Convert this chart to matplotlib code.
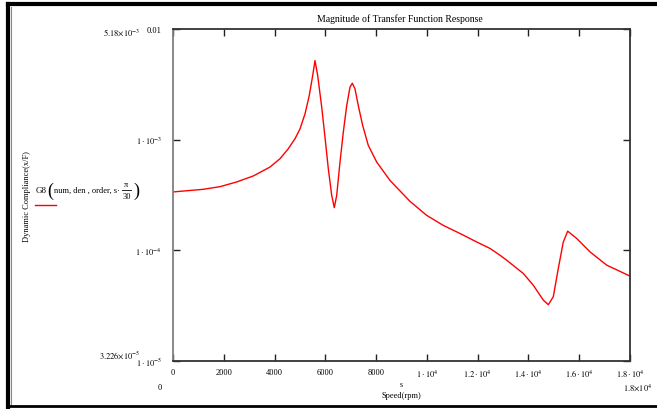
import matplotlib
matplotlib.use("Agg")
import matplotlib.pyplot as plt
from matplotlib.lines import Line2D

plt.rcParams['font.family'] = ['Liberation Serif', 'DejaVu Serif']
plt.rcParams['mathtext.fontset'] = 'stix'

# Data (speed in rpm, dynamic compliance)
speed_rpm = [0, 1193, 1851, 2509, 3163, 3821, 4214, 4541, 4805, 5002, 5199,
             5368, 5502, 5593, 5699, 5857, 5987, 6117, 6251, 6353, 6448, 6578,
             6708, 6842, 6971, 7062, 7168, 7298, 7472, 7692, 8023, 8547, 9335,
             9992, 10646, 11304, 11962, 12486, 12880, 13143, 13797, 14191,
             14585, 14782, 14979, 15176, 15373, 15546, 15900, 16424, 17082,
             18000]
compliance = [3.37e-4, 3.56e-4, 3.76e-4, 4.15e-4, 4.70e-4, 5.66e-4, 6.73e-4,
              8.28e-4, 1.02e-3, 1.25e-3, 1.71e-3, 2.51e-3, 3.80e-3, 5.18e-3,
              3.80e-3, 1.97e-3, 1.05e-3, 5.47e-4, 3.14e-4, 2.43e-4, 3.14e-4,
              6.28e-4, 1.17e-3, 2.03e-3, 2.98e-3, 3.24e-3, 2.88e-3, 2.03e-3,
              1.34e-3, 8.87e-4, 6.28e-4, 4.28e-4, 2.77e-4, 2.07e-4, 1.68e-4,
              1.42e-4, 1.19e-4, 1.04e-4, 9.03e-5, 8.14e-5, 6.18e-5, 4.84e-5,
              3.55e-5, 3.226e-5, 3.81e-5, 6.86e-5, 1.19e-4, 1.49e-4, 1.28e-4,
              9.69e-5, 7.35e-5, 5.85e-5]

x_ticks = [0, 2000, 4000, 6000, 8000, 10000, 12000, 14000, 16000, 18000]
x_ticklabels = ["0", "2000", "4000", "6000", "8000", r"$1\cdot10^{4}$",
                r"$1.2\cdot10^{4}$", r"$1.4\cdot10^{4}$", r"$1.6\cdot10^{4}$",
                r"$1.8\cdot10^{4}$"]
y_ticks = [1e-5, 1e-4, 1e-3, 1e-2]
y_ticklabels = [r"$1\cdot10^{-5}$", r"$1\cdot10^{-4}$", r"$1\cdot10^{-3}$", "0.01"]

W, H = 657, 410
fig = plt.figure(figsize=(W / 100, H / 100), dpi=100)
ax = fig.add_axes([173 / W, 1 - 362 / H, (630 - 173) / W, (362 - 30) / H])

ax.plot(speed_rpm, compliance, color='red', lw=1.0)
ax.set_yscale('log')
ax.set_xlim(0, 18000)
ax.set_ylim(1e-5, 1e-2)
ax.set_xticks(x_ticks)
ax.set_xticklabels(x_ticklabels)
ax.set_yticks(y_ticks)
ax.set_yticklabels(y_ticklabels)
ax.yaxis.set_minor_locator(matplotlib.ticker.NullLocator())
ax.tick_params(which='both', direction='in', top=True, right=True,
               labelsize=6, length=5, width=1.0, color='#222222')
ax.tick_params(axis='x', pad=5)
ax.tick_params(axis='y', pad=8)

for side in ['top', 'right', 'bottom']:
    ax.spines[side].set_color('#333333')
    ax.spines[side].set_linewidth(1.3)
ax.spines['left'].set_color('#808080')
ax.spines['left'].set_linewidth(1.3)

fig.text(400 / W, 1 - 19 / H, "Magnitude of Transfer Function Response",
         ha='center', va='center', fontsize=7)
fig.text(401 / W, 1 - 385 / H, "s", ha='center', va='center', fontsize=5.5)
fig.text(401 / W, 1 - 396 / H, "Speed(rpm)", ha='center', va='center', fontsize=6)
fig.text(27 / W, 1 - 197 / H, "Dynamic Compliance(x/F)", rotation=90,
         ha='center', va='center', fontsize=6)

# range annotations
fig.text(140 / W, 1 - 33 / H, r"$5.18{\times}10^{-3}$", ha='right', va='center',
         fontsize=6)
fig.text(140 / W, 1 - 355 / H, r"$3.226{\times}10^{-5}$", ha='right', va='center',
         fontsize=6)
fig.text(160 / W, 1 - 388 / H, "0", ha='center', va='center', fontsize=6)
fig.text(638 / W, 1 - 388 / H, r"$1.8{\times}10^{4}$", ha='center', va='center',
         fontsize=6)

# legend (composed pieces)
def ftext(x, y, s, **kw):
    fig.text(x / W, 1 - y / H, s, **kw)

ftext(36, 193, "G8", ha='left', va='baseline', fontsize=6.5)
ftext(50.5, 191, "(", ha='center', va='center', fontsize=13)
ftext(54, 193, "num, den , order, s\u00b7", ha='left', va='baseline', fontsize=6)
ftext(126.5, 187, "\u03c0", ha='center', va='baseline', fontsize=6)
fig.add_artist(Line2D([122 / W, 131 / W], [1 - 190.5 / H, 1 - 190.5 / H],
                      color='black', lw=0.6))
ftext(126.5, 199, "30", ha='center', va='baseline', fontsize=6)
ftext(136, 191, ")", ha='center', va='center', fontsize=13)
fig.add_artist(Line2D([35 / W, 56 / W], [1 - 206 / H, 1 - 206 / H],
                      color='red', lw=1.0))

# outer frame
fig.add_artist(Line2D([8 / W, 8 / W], [1 - 5 / H, 1 - 408 / H], color='black', lw=3))
fig.add_artist(Line2D([11 / W, 11 / W], [1 - 8 / H, 1 - 406 / H], color='#888888', lw=0.8))
fig.add_artist(Line2D([8 / W, 1.0], [1 - 5 / H, 1 - 5 / H], color='black', lw=3))
fig.add_artist(Line2D([8 / W, 1.0], [1 - 407 / H, 1 - 407 / H], color='black', lw=2))

fig.savefig("out.png", dpi=100)
